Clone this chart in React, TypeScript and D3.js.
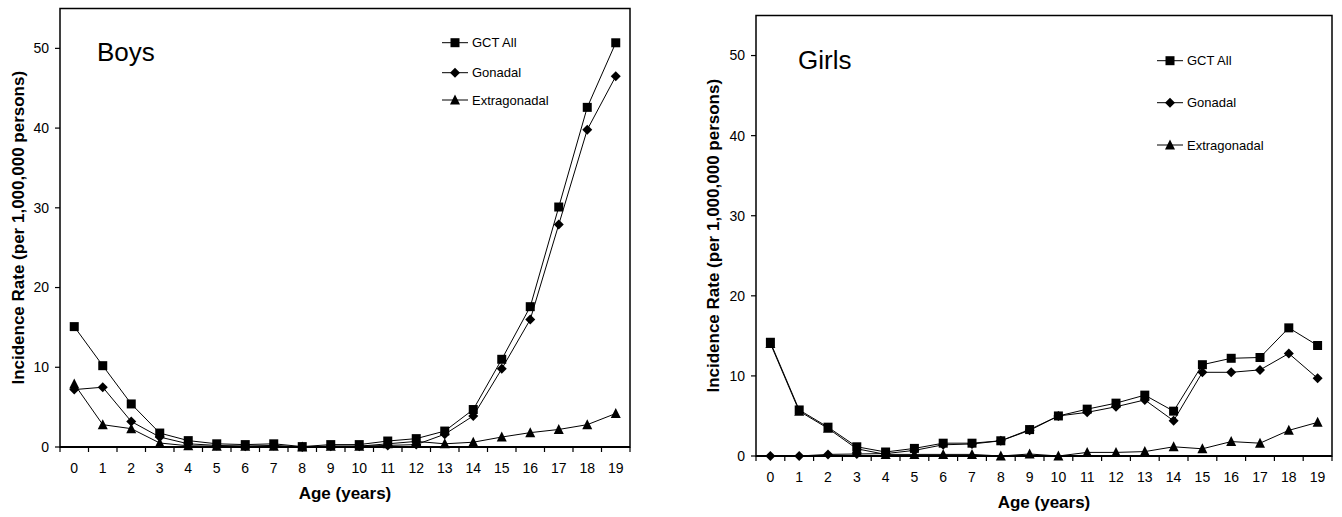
import React from "react";
import { scaleLinear, scaleBand, line, symbol } from "d3";

const ages = ["0", "1", "2", "3", "4", "5", "6", "7", "8", "9", "10", "11", "12", "13", "14", "15", "16", "17", "18", "19"];
const yTicks = [0, 10, 20, 30, 40, 50];
const seriesNames = ["GCT All", "Gonadal", "Extragonadal"];

const boysAll = [15.1, 10.2, 5.4, 1.75, 0.8, 0.4, 0.3, 0.4, 0.05, 0.3, 0.3, 0.75, 1.05, 2.0, 4.7, 11.0, 17.6, 30.1, 42.6, 50.7];
const boysGonadal = [7.2, 7.5, 3.2, 1.25, 0.4, 0.2, 0.1, 0.2, 0, 0.1, 0.1, 0.2, 0.3, 1.6, 3.9, 9.8, 16.0, 27.9, 39.8, 46.5];
const boysExtra = [7.9, 2.8, 2.3, 0.5, 0.15, 0.1, 0.1, 0.1, 0, 0.1, 0.1, 0.4, 0.7, 0.4, 0.6, 1.25, 1.8, 2.2, 2.8, 4.2];

const girlsAll = [14.2, 5.75, 3.6, 1.15, 0.5, 0.95, 1.6, 1.6, 1.9, 3.3, 5.0, 5.85, 6.6, 7.6, 5.6, 11.4, 12.2, 12.3, 16.0, 13.8];
const girlsGonadal = [0, 0, 0.2, 0.25, 0.3, 0.7, 1.4, 1.5, 1.9, 3.2, 5.0, 5.45, 6.15, 7.0, 4.4, 10.45, 10.45, 10.75, 12.8, 9.7];
const girlsExtra = [14.05, 5.6, 3.45, 0.9, 0.2, 0.2, 0.2, 0.2, 0, 0.25, 0, 0.45, 0.45, 0.55, 1.15, 0.9, 1.8, 1.6, 3.2, 4.2];

const font = "'Liberation Sans', Arial, sans-serif";

// marker shapes: size is the full width in px
const square = {
  draw(ctx, s) {
    const h = s / 2;
    ctx.rect(-h, -h, s, s);
  },
};
const diamond = {
  draw(ctx, s) {
    const h = s / 2;
    ctx.moveTo(0, -h);
    ctx.lineTo(h, 0);
    ctx.lineTo(0, h);
    ctx.lineTo(-h, 0);
    ctx.closePath();
  },
};
const triangle = {
  draw(ctx, s) {
    const h = s / 2;
    ctx.moveTo(0, -h - 0.5);
    ctx.lineTo(h, h - 0.5);
    ctx.lineTo(-h, h - 0.5);
    ctx.closePath();
  },
};
const shapes = [square, diamond, triangle];
const sizes = [9, 10, 10];

const Marker = ({ kind, x, y }) => (
  <path d={symbol(shapes[kind], sizes[kind])()} transform={`translate(${x},${y})`} fill="#000" />
);

const Panel = ({ title, series, left, right, top, bottom, titlePos, legend, yTitleX }) => {
  const xScale = scaleBand().domain(ages).range([left, right]).padding(0);
  const yScale = scaleLinear().domain([0, 55]).range([bottom, top]);
  const cx = (a) => xScale(a) + xScale.bandwidth() / 2;

  const path = line()
    .x((d, i) => cx(ages[i]))
    .y((d) => yScale(d));

  // draw order: extragonadal, gonadal, all on top
  const order = [2, 1, 0];

  return (
    <g fontFamily={font}>
      <rect x={left} y={top} width={right - left} height={bottom - top} fill="none" stroke="#000" strokeWidth={1.5} />
      {yTicks.map((t) => (
        <g key={t}>
          <line x1={left - 5} x2={left} y1={yScale(t)} y2={yScale(t)} stroke="#000" strokeWidth={1.2} />
          <text x={left - 11} y={yScale(t)} dy="0.35em" textAnchor="end" fontSize={14}>
            {t}
          </text>
        </g>
      ))}
      <line x1={left} x2={right} y1={bottom} y2={bottom} stroke="#000" strokeWidth={2} />
      {ages.map((a) => (
        <g key={a}>
          <line x1={xScale(a)} x2={xScale(a)} y1={bottom} y2={bottom + 5} stroke="#000" strokeWidth={1.2} />
          <text x={cx(a)} y={bottom + 26} textAnchor="middle" fontSize={14}>
            {a}
          </text>
        </g>
      ))}
      <line x1={right} x2={right} y1={bottom} y2={bottom + 5} stroke="#000" strokeWidth={1.2} />
      <text x={(left + right) / 2} y={bottom + 52} textAnchor="middle" fontSize={17} fontWeight="bold">
        Age (years)
      </text>
      <text
        transform={`translate(${yTitleX},${(top + bottom) / 2}) rotate(-90)`}
        textAnchor="middle"
        dy="0.35em"
        fontSize={17}
        fontWeight="bold"
      >
        Incidence Rate (per 1,000,000 persons)
      </text>
      <text x={titlePos[0]} y={titlePos[1]} fontSize={26}>
        {title}
      </text>

      {order.map((k) => (
        <g key={k}>
          <path d={path(series[k])} fill="none" stroke="#000" strokeWidth={1} />
          {series[k].map((v, i) => (
            <Marker key={i} kind={k} x={cx(ages[i])} y={yScale(v)} />
          ))}
        </g>
      ))}

      {seriesNames.map((name, k) => (
        <g key={name}>
          <line x1={legend.x} x2={legend.x + 26} y1={legend.ys[k]} y2={legend.ys[k]} stroke="#000" strokeWidth={1} />
          <Marker kind={k} x={legend.x + 13} y={legend.ys[k]} />
          <text x={legend.x + 30} y={legend.ys[k]} dy="0.35em" fontSize={13}>
            {name}
          </text>
        </g>
      ))}
    </g>
  );
};

export default function App() {
  return (
    <svg width={1342} height={517} style={{ position: "absolute", left: 0, top: 0, background: "#fff" }}>
      <Panel
        title="Boys"
        series={[boysAll, boysGonadal, boysExtra]}
        left={60}
        right={630}
        top={8.5}
        bottom={447}
        titlePos={[97, 61]}
        legend={{ x: 442, ys: [42.7, 72.7, 100] }}
        yTitleX={18}
      />
      <Panel
        title="Girls"
        series={[girlsAll, girlsGonadal, girlsExtra]}
        left={756}
        right={1332}
        top={15.5}
        bottom={456}
        titlePos={[798, 69]}
        legend={{ x: 1157, ys: [60.7, 102.7, 145] }}
        yTitleX={713}
      />
    </svg>
  );
}
